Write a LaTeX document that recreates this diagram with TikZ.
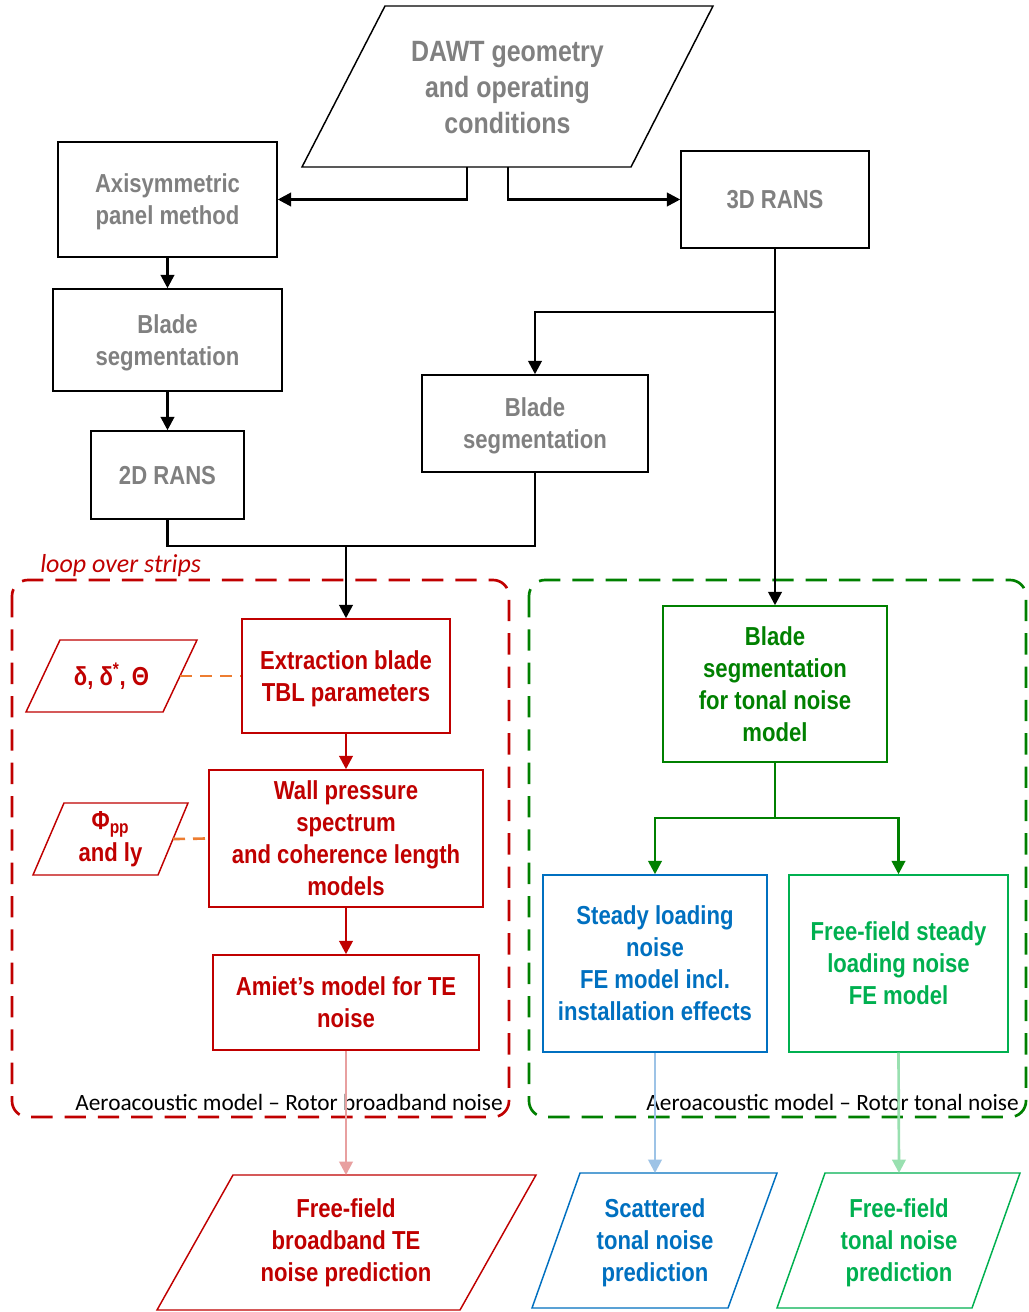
\documentclass[tikz,border=0pt]{standalone}
\usepackage{fontspec}
\setmainfont[FakeStretch=0.85]{Liberation Sans}
\newfontfamily\calib[Ligatures=TeX]{Carlito}
\usetikzlibrary{arrows.meta,calc}
\definecolor{txtgray}{RGB}{128,128,128}
\definecolor{dred}{RGB}{192,0,0}
\definecolor{dgreen}{RGB}{0,128,0}
\definecolor{lgreen}{RGB}{0,176,80}
\definecolor{mblue}{RGB}{0,112,192}
\definecolor{orng}{RGB}{237,125,49}
\definecolor{pred}{RGB}{232,160,160}
\definecolor{pblue}{RGB}{157,195,230}
\definecolor{pgreen}{RGB}{153,224,176}
\tikzset{
  box/.style={draw, line width=1.1pt, inner sep=0pt, align=center, text depth=0pt,
    font=\bfseries\fontsize{19.5}{24}\selectfont},
  lbl/.style={align=center, font=\bfseries\fontsize{19.5}{24}\selectfont},
  arr/.style={line width=2pt, -{Triangle[length=10pt,width=10pt]}},
  ln/.style={line width=2pt},
  region/.style={dashed, dash pattern=on 16pt off 9pt, line width=2pt, rounded corners=12pt},
  foot/.style={font=\calib\fontsize{17.5}{20}\selectfont, inner sep=0pt},
  para/.style={line width=1.1pt}
}
\begin{document}
\begin{tikzpicture}[x=0.75pt,y=-0.75pt]
\useasboundingbox (0,0) rectangle (1028,1312);
\fill[white] (0,0) rectangle (1028,1312);

% DAWT parallelogram
\draw[para] (385,6) -- (713,6) -- (631,167) -- (302,167) -- cycle;
\node[lbl, text=txtgray, font=\bfseries\fontsize{22}{27}\selectfont] (dawt) at (507.5,88) {DAWT geometry\\and operating\\conditions};
\coordinate (dawtl) at (467,167);
\coordinate (dawtr) at (508,167);

% black boxes
\node[box, text=txtgray, minimum width=164.25pt, minimum height=86.25pt] (axi) at (167.5,199.5) {Axisymmetric\\panel method};
\node[box, text=txtgray, minimum width=141pt, minimum height=72.75pt] (rans3) at (775,199.5) {3D RANS};
\node[box, text=txtgray, minimum width=171.75pt, minimum height=76.5pt] (seg1) at (167.5,340) {Blade\\segmentation};
\node[box, text=txtgray, minimum width=114.75pt, minimum height=66pt] (rans2) at (167.5,475) {2D RANS};
\node[box, text=txtgray, minimum width=169.5pt, minimum height=72.75pt] (seg2) at (535,423.5) {Blade\\segmentation};

% regions
\draw[region, dred] (12,580) rectangle (509,1117);
\draw[region, dgreen] (529,580) rectangle (1026,1117);
\node[foot, text=dred, anchor=west, font=\calib\itshape\fontsize{19.5}{22}\selectfont] (loop) at (40,566) {loop over strips};
\node[foot, anchor=east] (footl) at (503,1102) {Aeroacoustic model – Rotor broadband noise};
\node[foot, anchor=east] (footr) at (1019,1102) {Aeroacoustic model – Rotor tonal noise};

% red boxes
\node[box, draw=dred, text=dred, minimum width=156pt, minimum height=85.5pt] (extr) at (346,676) {Extraction blade\\TBL parameters};
\node[box, draw=dred, text=dred, minimum width=205.5pt, minimum height=102.75pt] (wall) at (346,838.5) {Wall pressure\\spectrum\\and coherence length\\models};
\node[box, draw=dred, text=dred, minimum width=199.5pt, minimum height=71.25pt] (amiet) at (346,1002.5) {Amiet's model for TE\\noise};

% red input parallelograms
\draw[para, dred] (60,640) -- (197,640) -- (163,712) -- (26,712) -- cycle;
\node[lbl, text=dred] (p1) at (111.5,676) {δ, δ\textsuperscript{*}, Θ};
\coordinate (p1r) at (180,676);
\draw[para, dred] (64,803) -- (188,803) -- (158,875) -- (33,875) -- cycle;
\node[lbl, text=dred] (p2) at (110.5,839) {Φ\textsubscript{pp}\\and ly};
\coordinate (p2r) at (173,839);

% green / blue boxes
\node[box, draw=dgreen, text=dgreen, minimum width=168pt, minimum height=117pt] (tonal) at (775,684) {Blade\\segmentation\\for tonal noise\\model};
\node[box, draw=mblue, text=mblue, minimum width=168pt, minimum height=132.75pt] (blue) at (655,963.5) {Steady loading\\noise\\FE model incl.\\installation effects};
\node[box, draw=lgreen, text=lgreen, minimum width=164.25pt, minimum height=132.75pt] (green2) at (898.5,963.5) {Free-field steady\\loading noise\\FE model};

% bottom parallelograms
\draw[para, dred] (233,1175) -- (536,1175) -- (460,1310) -- (157,1310) -- cycle;
\node[lbl, text=dred] (outr) at (346,1243) {Free-field\\broadband TE\\noise prediction};
\coordinate (outrt) at (346,1175);
\draw[para, mblue] (580,1173) -- (777,1173) -- (728,1308) -- (532,1308) -- cycle;
\node[lbl, text=mblue] (outb) at (655,1243) {Scattered\\tonal noise\\prediction};
\coordinate (outbt) at (655,1173);
\draw[para, lgreen] (825,1173) -- (1020,1173) -- (972,1308) -- (777,1308) -- cycle;
\node[lbl, text=lgreen] (outg) at (899,1243) {Free-field\\tonal noise\\prediction};
\coordinate (outgt) at (899,1173);

% black connectors
\draw[arr] (dawtl) |- (axi.east);
\draw[arr] (dawtr) |- (rans3.west);
\draw[arr] (axi.south) -- (seg1.north);
\draw[arr] (seg1.south) -- (rans2.north);
\coordinate (split) at (775,312);
\draw[ln] (rans3.south) -- (split);
\draw[arr] (split) -| (seg2.north);
\draw[arr] (split) -- (tonal.north);
\coordinate (merge) at (346,546);
\draw[ln] (rans2.south) |- (merge);
\draw[ln] (seg2.south) |- (merge);
\draw[arr] (merge) -- (extr.north);

% red connectors
\draw[arr, dred] (extr.south) -- (wall.north);
\draw[arr, dred] (wall.south) -- (amiet.north);
\draw[orng, line width=2pt, dash pattern=on 9pt off 6pt] (p1r) -- (extr.west);
\draw[orng, line width=2pt, dash pattern=on 9pt off 6pt] (p2r) -- (wall.west);

% green connectors
\coordinate (gsplit) at (775,818);
\draw[ln, dgreen] (tonal.south) -- (gsplit);
\draw[arr, dgreen] (gsplit) -| (blue.north);
\draw[arr, dgreen] (gsplit) -| (green2.north);

% light output connectors
\draw[arr, pred] (amiet.south) -- (outrt);
\draw[arr, pblue] (blue.south) -- (outbt);
\draw[arr, pgreen] (green2.south) -- (outgt);
\end{tikzpicture}
\end{document}
